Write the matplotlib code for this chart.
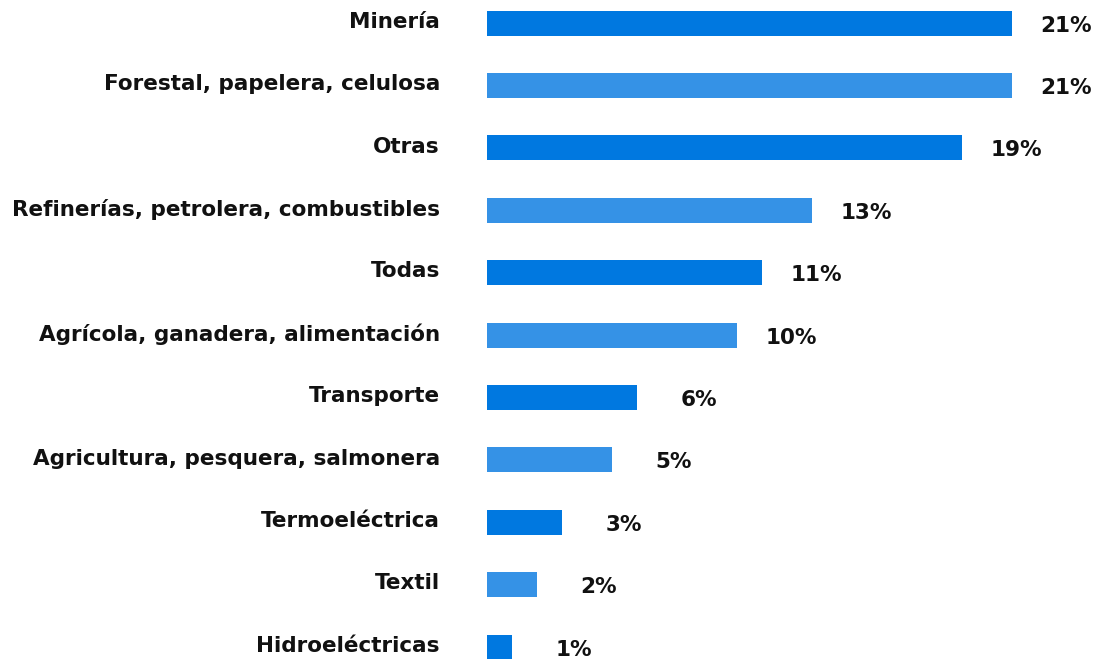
import matplotlib
matplotlib.use("Agg")
import matplotlib.pyplot as plt

plt.rcParams['font.family'] = ['DejaVu Sans']

# sectores y porcentajes
sectores = ["Minería", "Forestal, papelera, celulosa", "Otras",
            "Refinerías, petrolera, combustibles", "Todas",
            "Agrícola, ganadera, alimentación", "Transporte",
            "Agricultura, pesquera, salmonera", "Termoeléctrica",
            "Textil", "Hidroeléctricas"]
porcentajes = [21, 21, 19, 13, 11, 10, 6, 5, 3, 2, 1]

AZUL = "#0078e0"
AZUL_CLARO = "#3592e6"
colores = [AZUL if i % 2 == 0 else AZUL_CLARO for i in range(len(sectores))]

fig = plt.figure(figsize=(10.97, 6.59), dpi=100)
ax = fig.add_axes([487 / 1097, 0, 610 / 1097, 1])

pos = list(range(len(sectores)))
ax.barh(pos, porcentajes, height=0.4, color=colores)
ax.set_xlim(0, 24.4)
ax.set_ylim(10.19, -0.369)

# etiquetas de valor alineadas a la derecha, a distancia fija del extremo
for y, v in zip(pos, porcentajes):
    ax.text(v + 3.2, y + 0.04, f"{v}%", ha="right", va="center",
            fontsize=15.5, fontweight="bold", color="#111111")
for y, s in zip(pos, sectores):
    ax.text(-1.88, y - 0.02, s, ha="right", va="center",
            fontsize=15.5, fontweight="bold", color="#111111")

ax.axis("off")
fig.savefig("out.png", dpi=100)
